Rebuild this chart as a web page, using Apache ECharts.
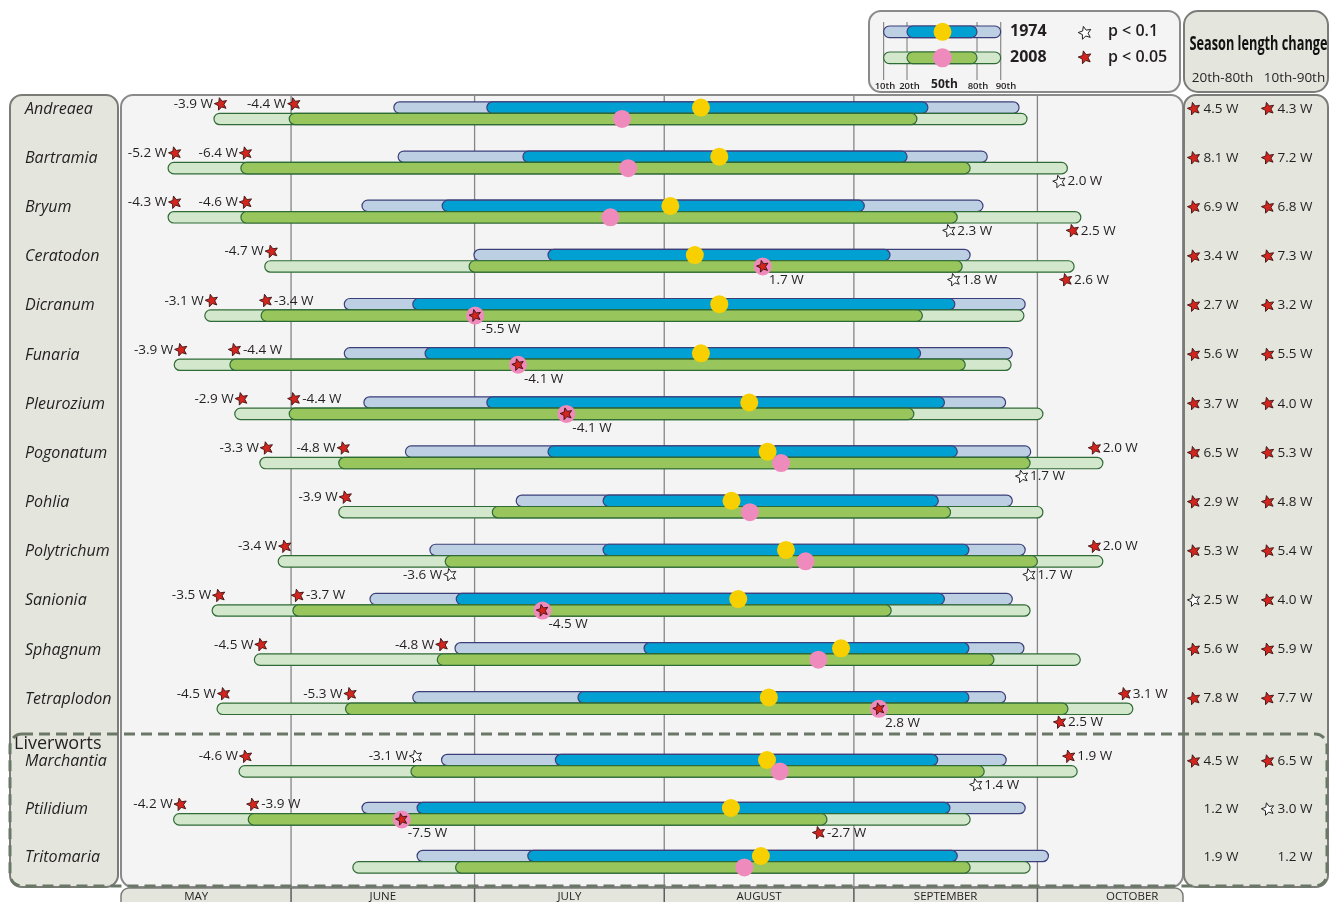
<!DOCTYPE html>
<html>
<head>
<meta charset="utf-8">
<title>Bryophyte reproductive season, 1974 vs 2008</title>
<script src="https://cdn.jsdelivr.net/npm/echarts@6/dist/echarts.min.js"></script>
<style>
  html, body { margin: 0; padding: 0; background: #ffffff; }
  #chart { width: 1333px; height: 902px; }
</style>
</head>
<body>
<div id="chart"></div>
<script>
// ---- genera (rows, top to bottom) ----
const mossGenera = ['Andreaea', 'Bartramia', 'Bryum', 'Ceratodon', 'Dicranum', 'Funaria', 'Pleurozium',
  'Pogonatum', 'Pohlia', 'Polytrichum', 'Sanionia', 'Sphagnum', 'Tetraplodon'];
const liverwortGenera = ['Marchantia', 'Ptilidium', 'Tritomaria'];

// ---- season percentiles, day of year (mosses first, then liverworts) ----
const p10_1974 = [168.8, 169.5, 163.6, 181.9, 160.7, 160.7, 163.9, 170.7, 188.8, 174.7, 164.9, 178.8, 171.9, 176.6, 163.6, 172.6];
const p20_1974 = [184.0, 189.9, 176.7, 194.0, 171.9, 173.9, 184.0, 194.0, 203.0, 203.0, 179.0, 209.7, 198.9, 195.2, 172.6, 190.7];
const p50_1974 = [219.0, 222.0, 214.0, 218.0, 222.0, 219.0, 226.9, 229.9, 224.0, 232.9, 225.1, 241.9, 230.1, 229.8, 223.9, 228.8];
const p80_1974 = [256.1, 252.7, 245.7, 249.9, 260.5, 254.9, 258.8, 260.9, 257.8, 262.8, 258.8, 262.8, 262.8, 257.7, 259.7, 260.9];
const p90_1974 = [271.0, 265.8, 265.1, 263.0, 272.0, 269.9, 268.8, 272.9, 269.9, 272.0, 269.9, 271.8, 268.8, 268.9, 272.0, 275.8];

const p10_2008 = [139.4, 131.9, 131.9, 147.7, 137.9, 132.9, 142.8, 146.9, 159.8, 149.9, 139.1, 146.0, 139.9, 143.5, 132.8, 162.1];
const p20_2008 = [151.7, 143.8, 143.8, 181.1, 147.1, 142.0, 151.7, 159.8, 184.9, 177.2, 152.3, 175.9, 160.9, 171.6, 145.0, 178.9];
const p50_2008 = [206.1, 207.1, 204.2, 229.1, 182.1, 189.1, 197.0, 232.1, 227.0, 236.1, 193.1, 238.2, 248.1, 231.9, 170.1, 226.1];
const p80_2008 = [254.3, 263.0, 260.9, 261.7, 255.2, 262.2, 253.8, 272.8, 259.8, 274.0, 250.1, 266.9, 279.0, 265.3, 239.6, 263.0];
const p90_2008 = [272.3, 278.9, 281.1, 280.0, 271.8, 269.7, 274.9, 284.7, 274.9, 284.7, 272.8, 281.0, 289.6, 280.5, 263.0, 272.8];

// ---- shifts in weeks (null = not shown); significance: 2 = p<0.05, 1 = p<0.1, 0 = n.s. ----
const shift10 = [-3.9, -5.2, -4.3, -4.7, -3.1, -3.9, -2.9, -3.3, -3.9, -3.4, -3.5, -4.5, -4.5, -4.6, -4.2, null];
const sig10   = [2, 2, 2, 2, 2, 2, 2, 2, 2, 2, 2, 2, 2, 2, 2, 0];
const shift20 = [-4.4, -6.4, -4.6, null, -3.4, -4.4, -4.4, -4.8, null, -3.6, -3.7, -4.8, -5.3, -3.1, -3.9, null];
const sig20   = [2, 2, 2, 0, 2, 2, 2, 2, 0, 1, 2, 2, 2, 1, 2, 0];
const shift50 = [null, null, null, 1.7, -5.5, -4.1, -4.1, null, null, null, -4.5, null, 2.8, null, -7.5, null];
const sig50   = [0, 0, 0, 2, 2, 2, 2, 0, 0, 0, 2, 0, 2, 0, 2, 0];
const shift80 = [null, null, 2.3, 1.8, null, null, null, 1.7, null, 1.7, null, null, 2.5, 1.4, -2.7, null];
const sig80   = [0, 0, 1, 1, 0, 0, 0, 1, 0, 1, 0, 0, 2, 1, 2, 0];
const shift90 = [null, 2.0, 2.5, 2.6, null, null, null, 2.0, null, 2.0, null, null, 3.1, 1.9, null, null];
const sig90   = [0, 1, 2, 2, 0, 0, 0, 2, 0, 2, 0, 0, 2, 2, 0, 0];

// ---- season length change (weeks) ----
const length2080 = [4.5, 8.1, 6.9, 3.4, 2.7, 5.6, 3.7, 6.5, 2.9, 5.3, 2.5, 5.6, 7.8, 4.5, 1.2, 1.9];
const lengthSig2080 = [2, 2, 2, 2, 2, 2, 2, 2, 2, 2, 1, 2, 2, 2, 0, 0];
const length1090 = [4.3, 7.2, 6.8, 7.3, 3.2, 5.5, 4.0, 5.3, 4.8, 5.4, 4.0, 5.9, 7.7, 6.5, 3.0, 1.2];
const lengthSig1090 = [2, 2, 2, 2, 2, 2, 2, 2, 2, 2, 2, 2, 2, 2, 1, 0];

// ---- months (day of year of the 1st) ----
const monthNames = ['MAY', 'JUNE', 'JULY', 'AUGUST', 'SEPTEMBER', 'OCTOBER'];
const monthStart = [121, 152, 182, 213, 244, 274];
const monthDays  = [31, 30, 31, 31, 30, 31];

// ---- styling ----
const FONT = '"Open Sans", "Noto Sans", sans-serif';
const C = {
  panel: '#e4e6de', panelEdge: '#7b7c78', plotBg: '#f4f4f4', plotEdge: '#8a8a8a',
  light74: '#bdd0e3', dark74: '#00a0d3', edge74: '#3c3e7a',
  light08: '#d3e7cd', dark08: '#98c65d', edge08: '#2f6b35',
  med74: '#f8d000', med08: '#ef8bbc',
  starRed: '#d3251d', starEdge: '#3a1212', text: '#231f20',
  monthLine: '#858585', tabLine: '#5c5c5c', dash: '#6b7766'
};
const X_MIN = 124.2, X_MAX = 297.8;
const BAR_H = 11.4;
// 20th-percentile labels whose text sits after the star
const textAfterStar20 = new Set(['Dicranum', 'Funaria', 'Pleurozium', 'Sanionia', 'Ptilidium']);
const allGenera = mossGenera.concat(liverwortGenera);

function fmtW(v) { return v.toFixed(1) + ' W'; }

function star(cx, cy, sig, R) {
  R = R || 6.6;
  const pts = [];
  for (let k = 0; k < 10; k++) {
    const a = (-90 - 14 + k * 36) * Math.PI / 180;
    const rr = k % 2 ? R * 0.45 : R;
    pts.push([cx + rr * Math.cos(a), cy + rr * Math.sin(a)]);
  }
  return {
    type: 'polygon', shape: { points: pts },
    style: sig === 2 ? { fill: C.starRed, stroke: C.starEdge, lineWidth: 0.9 }
                     : { fill: '#ffffff', stroke: '#222222', lineWidth: 1 }
  };
}

function txt(x, y, text, align, extra) {
  return {
    type: 'text', x: x, y: y,
    style: Object.assign({
      text: text, fill: C.text, fontSize: 13.5, fontFamily: FONT,
      align: align, verticalAlign: 'middle'
    }, extra || {})
  };
}

function capsule(x1, x2, yc, fill, stroke) {
  return {
    type: 'rect',
    shape: { x: x1, y: yc - BAR_H / 2, width: Math.max(x2 - x1, BAR_H), height: BAR_H, r: BAR_H / 2 },
    style: { fill: fill, stroke: stroke, lineWidth: 1.2 }
  };
}

function rowRenderer(offset) {
  return function (params, api) {
    const row = params.dataIndex;
    const i = offset + row;
    const name = allGenera[i];
    const yc = api.coord([X_MIN, row])[1];
    const X = v => api.coord([v, row])[0];
    const yA = yc - BAR_H / 2, yB = yc + BAR_H / 2;
    const up = yA - 3.5, down = yB + 13.5;
    const kids = [];

    // genus name in the left panel
    kids.push(txt(25, yc - 4, name, 'left', { fontSize: 16, fontStyle: 'italic' }));

    kids.push(capsule(X(p10_1974[i]), X(p90_1974[i]), yA, C.light74, C.edge74));
    kids.push(capsule(X(p20_1974[i]), X(p80_1974[i]), yA, C.dark74, C.edge74));
    kids.push(capsule(X(p10_2008[i]), X(p90_2008[i]), yB, C.light08, C.edge08));
    kids.push(capsule(X(p20_2008[i]), X(p80_2008[i]), yB, C.dark08, C.edge08));
    kids.push({ type: 'circle', shape: { cx: X(p50_1974[i]), cy: yA, r: 9 }, style: { fill: C.med74 } });
    kids.push({ type: 'circle', shape: { cx: X(p50_2008[i]), cy: yB, r: 9 }, style: { fill: C.med08 } });

    const label = (sx, sy, sig, val, side) => {
      if (sig) kids.push(star(sx, sy, sig));
      kids.push(txt(side === 'left' ? sx - 8 : sx + 8, sy, fmtW(val), side === 'left' ? 'right' : 'left'));
    };

    if (shift10[i] != null) label(X(p10_2008[i]) + 7, up, sig10[i], shift10[i], 'left');
    if (shift20[i] != null) {
      const sx = X(p20_2008[i]) + 5;
      const blocked = sx + 8 > X(p10_1974[i]);
      label(sx, blocked ? down : up, sig20[i], shift20[i], textAfterStar20.has(name) ? 'right' : 'left');
    }
    if (shift50[i] != null) {
      const mx = X(p50_2008[i]);
      if (sig50[i]) kids.push(star(mx, yB, sig50[i], 6.2));
      kids.push(txt(mx + 6, yB + 14, fmtW(shift50[i]), 'left'));
    }
    if (shift80[i] != null) label(X(p80_2008[i]) - 8, down, sig80[i], shift80[i], 'right');
    if (shift90[i] != null) {
      const lifted = shift80[i] != null && (p90_2008[i] - p80_2008[i]) < 17;
      label(X(p90_2008[i]) - 8, lifted ? up : down, sig90[i], shift90[i], 'right');
    }

    // season length change column
    const ys = yc - 4.5;
    if (lengthSig2080[i]) kids.push(star(1194, ys, lengthSig2080[i]));
    kids.push(txt(1203.5, ys, fmtW(length2080[i]), 'left'));
    if (lengthSig1090[i]) kids.push(star(1268, ys, lengthSig1090[i]));
    kids.push(txt(1277.5, ys, fmtW(length1090[i]), 'left'));

    return { type: 'group', children: kids };
  };
}

function monthRenderer(params, api) {
  const k = params.dataIndex;
  const cs = params.coordSys;
  const x0 = api.coord([monthStart[k], 0])[0];
  const xm = api.coord([monthStart[k] + monthDays[k] / 2, 0])[0];
  const kids = [];
  if (x0 > cs.x + 2) {
    kids.push({ type: 'line', shape: { x1: x0, y1: cs.y, x2: x0, y2: cs.y + cs.height },
      style: { stroke: C.monthLine, lineWidth: 1.3 } });
    kids.push({ type: 'line', shape: { x1: x0, y1: 888, x2: x0, y2: 905 },
      style: { stroke: C.tabLine, lineWidth: 1.5 } });
  }
  kids.push(txt(xm, 896.5, monthNames[k], 'center', { fontSize: 11.5 }));
  return { type: 'group', children: kids };
}

// ---- decorative panels, legend and header ----
function roundRect(x, y, w, h, r, fill, stroke, lw, z, dash) {
  const style = { fill: fill, stroke: stroke, lineWidth: lw };
  if (dash) style.lineDash = dash;
  return { type: 'rect', z: z || 0, shape: { x: x, y: y, width: w, height: h, r: r }, style: style };
}
function gText(x, y, text, opts) {
  return { type: 'text', z: 2, x: x, y: y,
    style: Object.assign({ text: text, fill: C.text, fontFamily: FONT, fontSize: 14,
      align: 'left', verticalAlign: 'middle' }, opts || {}) };
}
function gCapsule(x1, x2, yc, fill, stroke) {
  return { type: 'rect', z: 2, shape: { x: x1, y: yc - 5.8, width: x2 - x1, height: 11.6, r: 5.8 },
    style: { fill: fill, stroke: stroke, lineWidth: 1.2 } };
}
function gStar(cx, cy, sig) {
  const s = star(cx, cy, sig, 6.8);
  s.z = 2;
  return s;
}

// condensed header title: squeeze the bold face horizontally to its box width
const TITLE = 'Season length change';
const TITLE_FONT = 'bold 19px "Open Sans", sans-serif';
const titleCtx = document.createElement('canvas').getContext('2d');
titleCtx.font = TITLE_FONT;
const titleScale = Math.min(1, 138 / titleCtx.measureText(TITLE).width);

const legendTicks = [883.6, 907, 977, 1000.7];
const graphics = [
  roundRect(10, 95, 108, 792, 12, C.panel, C.panelEdge, 2),
  roundRect(121, 95, 1062, 792, 12, C.plotBg, C.plotEdge, 2),
  roundRect(1184, 95, 144, 792, 12, C.panel, C.panelEdge, 2),
  roundRect(121, 888, 1062, 24, [8, 8, 0, 0], C.panel, C.panelEdge, 1.5),
  roundRect(869, 11, 311, 81, 12, C.plotBg, C.plotEdge, 2),
  roundRect(1184, 11, 144, 81, 14, C.panel, C.panelEdge, 2),
  roundRect(10, 734, 1317, 152, 12, 'none', C.dash, 3, 40, [11, 6]),
  gText(14, 744, 'Liverworts', { fontSize: 18 }),
  { type: 'text', z: 2, x: 1258.5, y: 45, scaleX: titleScale, scaleY: 1,
    style: { text: TITLE, fill: '#111111', font: TITLE_FONT,
      align: 'center', verticalAlign: 'middle' } },
  gText(1222.5, 78.5, '20th-80th', { align: 'center', fontSize: 13.5 }),
  gText(1294.5, 78.5, '10th-90th', { align: 'center', fontSize: 13.5 })
];
legendTicks.forEach(x => graphics.push({ type: 'line', z: 1,
  shape: { x1: x, y1: 22, x2: x, y2: 80 }, style: { stroke: '#8a8a8a', lineWidth: 1.2 } }));
graphics.push(
  gCapsule(883.6, 1000.7, 31.8, C.light74, C.edge74),
  gCapsule(907, 977, 31.8, C.dark74, C.edge74),
  gCapsule(883.6, 1000.7, 57.8, C.light08, C.edge08),
  gCapsule(907, 977, 57.8, C.dark08, C.edge08),
  { type: 'circle', z: 3, shape: { cx: 942.5, cy: 31.8, r: 9 }, style: { fill: C.med74 } },
  { type: 'circle', z: 3, shape: { cx: 942.5, cy: 57.8, r: 9.5 }, style: { fill: C.med08 } },
  gText(1010, 31.5, '1974', { fontSize: 16, fontWeight: 'bold' }),
  gText(1010, 57.5, '2008', { fontSize: 16, fontWeight: 'bold' }),
  gStar(1085, 33, 1),
  gStar(1085, 57.5, 2),
  gText(1108, 31.5, 'p < 0.1', { fontSize: 16, fontWeight: 600 }),
  gText(1108, 57.5, 'p < 0.05', { fontSize: 16, fontWeight: 600 }),
  gText(885, 86, '10th', { align: 'center', fontSize: 9.5, fontWeight: 600 }),
  gText(909.5, 86, '20th', { align: 'center', fontSize: 9.5, fontWeight: 600 }),
  gText(944.5, 85, '50th', { align: 'center', fontSize: 12, fontWeight: 'bold' }),
  gText(978, 86, '80th', { align: 'center', fontSize: 9.5, fontWeight: 600 }),
  gText(1006, 86, '90th', { align: 'center', fontSize: 9.5, fontWeight: 600 })
);

const hiddenCategory = { axisLine: { show: false }, axisTick: { show: false },
  splitLine: { show: false }, axisLabel: { show: false } };

const chart = echarts.init(document.getElementById('chart'), null, { renderer: 'canvas' });
chart.setOption({
  animation: false,
  backgroundColor: '#ffffff',
  grid: [
    { left: 121, right: 150, top: 88.7, height: 639 },
    { left: 121, right: 150, top: 741.7, height: 144 },
    { left: 121, right: 150, top: 95, height: 792 }
  ],
  xAxis: [0, 1, 2].map(g => ({ type: 'value', gridIndex: g, min: X_MIN, max: X_MAX, show: false })),
  yAxis: [
    Object.assign({ type: 'category', gridIndex: 0, data: mossGenera, inverse: true }, hiddenCategory),
    Object.assign({ type: 'category', gridIndex: 1, data: liverwortGenera, inverse: true }, hiddenCategory),
    { type: 'value', gridIndex: 2, min: 0, max: 1, show: false }
  ],
  graphic: graphics,
  series: [
    { type: 'custom', name: 'months', xAxisIndex: 2, yAxisIndex: 2, z: 3, clip: false, silent: true,
      data: monthNames.map((m, k) => [monthStart[k], 0.5]), encode: { x: 0, y: 1 },
      renderItem: monthRenderer },
    { type: 'custom', name: 'mosses', xAxisIndex: 0, yAxisIndex: 0, z: 5, clip: false, silent: true,
      data: mossGenera.map((g, k) => [p50_1974[k], k]), encode: { x: 0, y: 1 },
      renderItem: rowRenderer(0) },
    { type: 'custom', name: 'liverworts', xAxisIndex: 1, yAxisIndex: 1, z: 5, clip: false, silent: true,
      data: liverwortGenera.map((g, k) => [p50_1974[13 + k], k]), encode: { x: 0, y: 1 },
      renderItem: rowRenderer(13) }
  ]
});
</script>
</body>
</html>
